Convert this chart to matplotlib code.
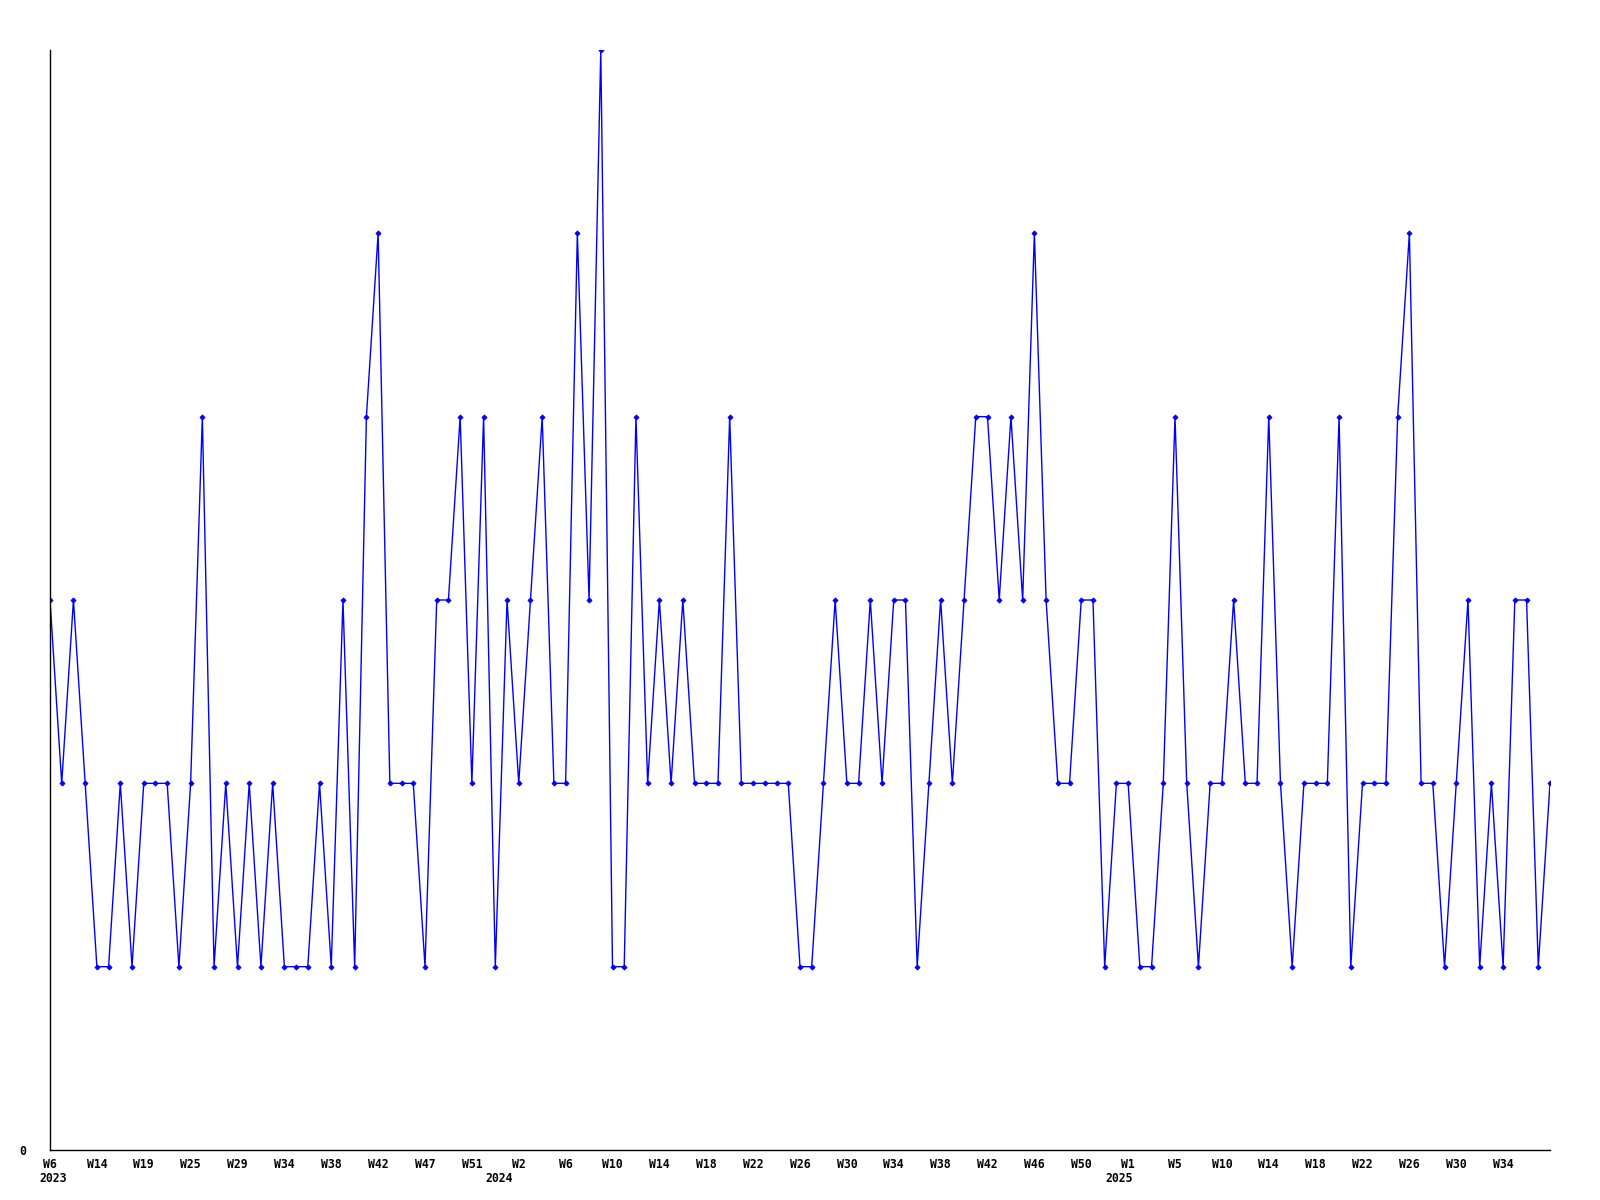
import matplotlib
matplotlib.use("Agg")
import matplotlib.pyplot as plt
from matplotlib.transforms import blended_transform_factory

# weekly values (one point per period)
values = [3, 2, 3, 2, 1, 1, 2, 1, 2, 2, 2, 1, 2, 4, 1, 2, 1, 2, 1, 2,
          1, 1, 1, 2, 1, 3, 1, 4, 5, 2, 2, 2, 1, 3, 3, 4, 2, 4, 1, 3,
          2, 3, 4, 2, 2, 5, 3, 6, 1, 1, 4, 2, 3, 2, 3, 2, 2, 2, 4, 2,
          2, 2, 2, 2, 1, 1, 2, 3, 2, 2, 3, 2, 3, 3, 1, 2, 3, 2, 3, 4,
          4, 3, 4, 3, 5, 3, 2, 2, 3, 3, 1, 2, 2, 1, 1, 2, 4, 2, 1, 2,
          2, 3, 2, 2, 4, 2, 1, 2, 2, 2, 4, 1, 2, 2, 2, 4, 5, 2, 2, 1,
          2, 3, 1, 2, 1, 3, 3, 1, 2]

week_labels = ["W6", "W14", "W19", "W25", "W29", "W34", "W38", "W42", "W47", "W51",
               "W2", "W6", "W10", "W14", "W18", "W22", "W26", "W30", "W34", "W38",
               "W42", "W46", "W50", "W1", "W5", "W10", "W14", "W18", "W22", "W26",
               "W30", "W34"]
label_step = 4
year_labels = ["2023", "2024", "2025"]
year_positions = [0.3, 38.3, 91.2]

fig = plt.figure(figsize=(16, 12), dpi=100)
ax = fig.add_axes([50/1600, 50/1200, 1500/1600, 1100/1200])

x = list(range(len(values)))
ax.plot(x, values, color="#0000ff", lw=1.0, marker="D", ms=2.6,
        markeredgewidth=0.6, markeredgecolor="#0000ff", markerfacecolor="#0000ff")

ax.set_xlim(0, len(values) - 1)
ax.set_ylim(0, 6)

for s in ["top", "right"]:
    ax.spines[s].set_visible(False)
for s in ["left", "bottom"]:
    ax.spines[s].set_linewidth(1.0)
    ax.spines[s].set_color("black")

font = dict(family="DejaVu Sans Mono", weight="bold", size=8.3)

ax.set_xticks([i * label_step for i in range(len(week_labels))])
ax.set_xticklabels(week_labels, **font)
ax.tick_params(axis="x", length=0, pad=5.5)
ax.set_yticks([0])
ax.set_yticklabels(["0"], **font)
ax.tick_params(axis="y", length=0, pad=17)

trans = blended_transform_factory(ax.transData, ax.transAxes)
for yl, yp in zip(year_labels, year_positions):
    ax.text(yp, -29/1100, yl, transform=trans, ha="center", va="center", **font)

fig.savefig("out.png", dpi=100, facecolor="white")
